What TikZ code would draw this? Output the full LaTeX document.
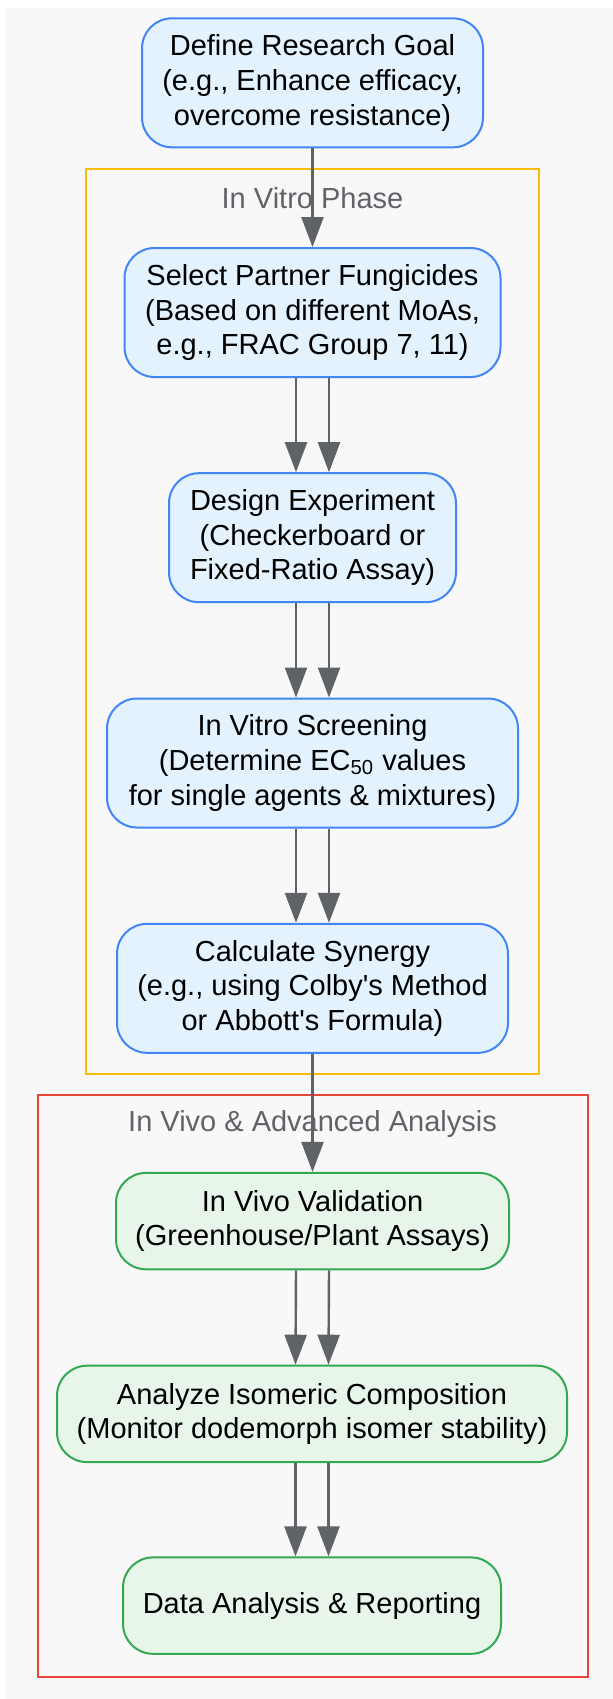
\documentclass[tikz,border=0pt]{standalone}
\usepackage{fontspec}
\setmainfont{Liberation Sans}
\usetikzlibrary{positioning,arrows.meta}

\definecolor{bgc}{HTML}{F8F8F8}
\definecolor{bluefill}{HTML}{E3F2FD}
\definecolor{blueline}{HTML}{4285F4}
\definecolor{grnfill}{HTML}{E8F5E9}
\definecolor{grnline}{HTML}{34A853}
\definecolor{yelline}{HTML}{FBBC05}
\definecolor{redline}{HTML}{EA4335}
\definecolor{arrc}{HTML}{5F6368}

\tikzset{
    txt/.style={font=\fontsize{14.5}{17.35}\selectfont, align=center},
    bstep/.style={txt, draw=blueline, fill=bluefill, line width=1pt, rounded corners=15pt, inner sep=0pt},
    gstep/.style={txt, draw=grnline, fill=grnfill, line width=1pt, rounded corners=15pt, inner sep=0pt},
    grp/.style={line width=1pt},
    grplabel/.style={txt, text=arrc, inner sep=0pt},
}

\begin{document}
\begin{tikzpicture}[x=0.5pt, y=-0.5pt, >={Triangle[length=15pt,width=11pt]}]
    \useasboundingbox (0,0) rectangle (613,1699);
    \fill[bgc] (6,8) rectangle (613,1699);
    % phase boxes
    \draw[grp, yelline] (85.6,169) rectangle (539.3,1074.3);
    \draw[grp, redline] (37.9,1095) rectangle (587.5,1676.5);
    \node[grplabel] (vitro) at (312.5,198) {In Vitro Phase};
    \node[grplabel] (vivo) at (312.5,1124) {In Vivo \& Advanced Analysis};

    \node[bstep, minimum width=170.5pt, minimum height=64.5pt] (goal) at (312.5,82.8) {Define Research Goal\\(e.g., Enhance efficacy,\\ overcome resistance)};
    \node[bstep, minimum width=188pt, minimum height=64.5pt] (partner) at (312.5,312.5) {Select Partner Fungicides\\(Based on different MoAs,\\e.g., FRAC Group 7, 11)};
    \node[bstep, minimum width=143.5pt, minimum height=64.5pt] (design) at (312.5,537.7) {Design Experiment\\(Checkerboard or\\Fixed-Ratio Assay)};
    \node[bstep, minimum width=205.5pt, minimum height=64.5pt] (screen) at (312.5,763) {In Vitro Screening\\(Determine EC\textsubscript{50} values\\for single agents \& mixtures)};
    \node[bstep, minimum width=195.5pt, minimum height=64.5pt] (synergy) at (312.5,988.3) {Calculate Synergy\\(e.g., using Colby\textquotesingle s Method\\or Abbott\textquotesingle s Formula)};
    \node[gstep, minimum width=196.5pt, minimum height=48.2pt] (invivo) at (312.5,1221.1) {In Vivo Validation\\(Greenhouse/Plant Assays)};
    \node[gstep, minimum width=255pt, minimum height=48.2pt] (isomer) at (312,1413.9) {Analyze Isomeric Composition\\(Monitor dodemorph isomer stability)};
    \node[gstep, minimum width=189pt, minimum height=48.2pt] (report) at (312,1605.6) {Data Analysis \& Reporting};

    \path[->, color=arrc, line width=1.2pt]
    (goal) edge (partner)
    ([xshift=-8.25pt]partner.south) edge ([xshift=-8.25pt]design.north)
    ([xshift=8.25pt]partner.south) edge ([xshift=8.25pt]design.north)
    ([xshift=-8.25pt]design.south) edge ([xshift=-8.25pt]screen.north)
    ([xshift=8.25pt]design.south) edge ([xshift=8.25pt]screen.north)
    ([xshift=-8.25pt]screen.south) edge ([xshift=-8.25pt]synergy.north)
    ([xshift=8.25pt]screen.south) edge ([xshift=8.25pt]synergy.north)
    (synergy) edge (invivo)
    ([xshift=-8.25pt]invivo.south) edge ([xshift=-8.25pt]isomer.north)
    ([xshift=8.25pt]invivo.south) edge ([xshift=8.25pt]isomer.north)
    ([xshift=-8.25pt]isomer.south) edge ([xshift=-8.25pt]report.north)
    ([xshift=8.25pt]isomer.south) edge ([xshift=8.25pt]report.north);
\end{tikzpicture}
\end{document}
